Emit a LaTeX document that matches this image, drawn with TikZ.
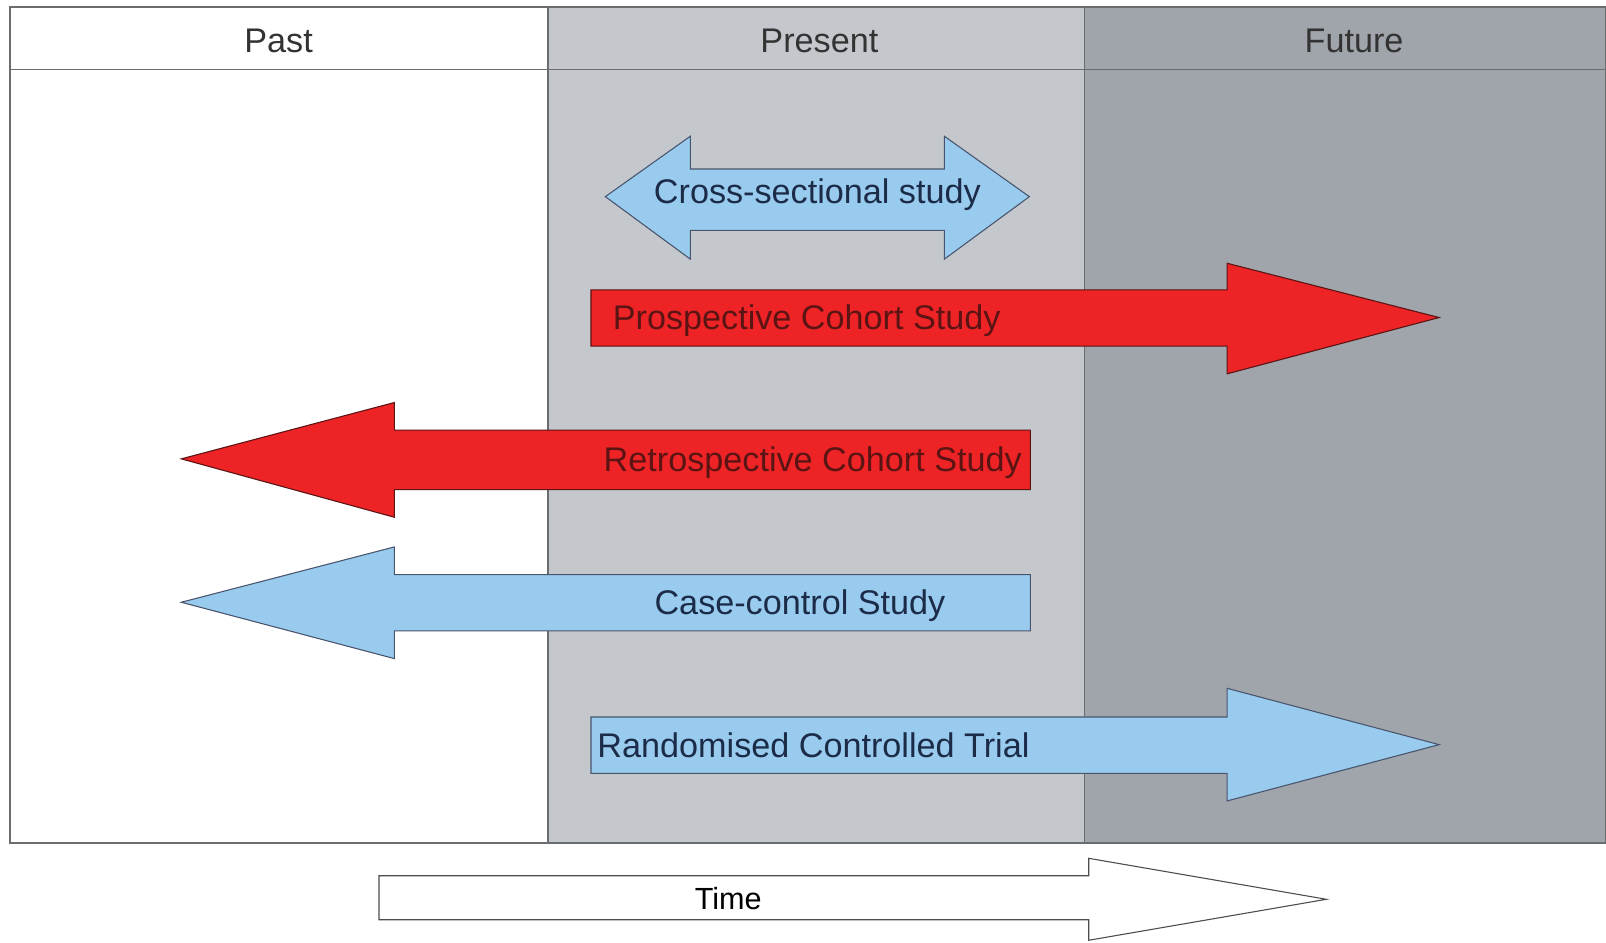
\documentclass[tikz,border=0pt]{standalone}
\usepackage{fontspec}
\setmainfont{Liberation Sans}
\usepackage{tikz}

\definecolor{presentgrey}{HTML}{C4C8CD}
\definecolor{futuregrey}{HTML}{A0A5AB}
\definecolor{framegrey}{HTML}{6A6D70}
\definecolor{studyblue}{HTML}{98CBEE}
\definecolor{studyred}{HTML}{EE2326}
\definecolor{bluetext}{HTML}{1B2B48}
\definecolor{redtext}{HTML}{5A1414}

\begin{document}
\begin{tikzpicture}[x=0.02cm, y=-0.02cm,
    label/.style={font=\fontsize{19}{22}\selectfont, inner sep=0pt},
    headtext/.style={label, text=black!80},
    bluearrow/.style={fill=studyblue, draw=bluetext!80, line width=0.6pt},
    redarrow/.style={fill=studyred, draw=redtext, line width=0.6pt},
    timearrow/.style={fill=white, draw=black!70, line width=0.6pt}]
    \useasboundingbox (0,0) rectangle (1568,920);
    % columns
    \fill[white]       (  10,7) rectangle ( 535,823);
    \fill[presentgrey] ( 535,7) rectangle (1059,823);
    \fill[futuregrey]  (1059,7) rectangle (1568,823);
    \draw[framegrey, line width=1.2pt] (10,7) rectangle (1568,823);
    \draw[framegrey, line width=0.8pt] (10,68) -- (1568,68);
    \draw[framegrey, line width=0.8pt] ( 535,7) -- ( 535,823);
    \draw[framegrey, line width=0.8pt] (1059,7) -- (1059,823);
    \node[headtext] (past)    at ( 272,40) {Past};
    \node[headtext] (present) at ( 800,40) {Present};
    \node[headtext] (future)  at (1322,40) {Future};
    % cross-sectional
    \draw[bluearrow] (591,192) -- (674,133) -- (674,165) -- (922,165) -- (922,133) -- (1005,192)
        -- (922,253) -- (922,225) -- (674,225) -- (674,253) -- cycle;
    \node[label, text=bluetext] (cross) at (798,190) {Cross-sectional study};
    % prospective cohort
    \draw[redarrow] (577,283) -- (1198,283) -- (1198,257) -- (1405,310) -- (1198,365) -- (1198,338)
        -- (577,338) -- cycle;
    \node[label, text=redtext, anchor=west] (prosp) at (598,313) {Prospective Cohort Study};
    % retrospective cohort
    \draw[redarrow] (1006,420) -- (1006,478) -- (385,478) -- (385,505) -- (177,448) -- (385,393)
        -- (385,420) -- cycle;
    \node[label, text=redtext, anchor=east] (retro) at (998,452) {Retrospective Cohort Study};
    % case-control
    \draw[bluearrow] (1006,561) -- (1006,616) -- (385,616) -- (385,643) -- (177,588) -- (385,534)
        -- (385,561) -- cycle;
    \node[label, text=bluetext] (casecontrol) at (781,591) {Case-control Study};
    % randomised controlled trial
    \draw[bluearrow] (577,700) -- (1198,700) -- (1198,672) -- (1405,727) -- (1198,782) -- (1198,755)
        -- (577,755) -- cycle;
    \node[label, text=bluetext, anchor=west] (rct) at (583,728) {Randomised Controlled Trial};
    % time
    \draw[timearrow] (370,855) -- (1063,855) -- (1063,838) -- (1295,878) -- (1063,918) -- (1063,898)
        -- (370,898) -- cycle;
    \node[label, font=\fontsize{17}{20}\selectfont, text=black] (time) at (711,877) {Time};
\end{tikzpicture}
\end{document}
